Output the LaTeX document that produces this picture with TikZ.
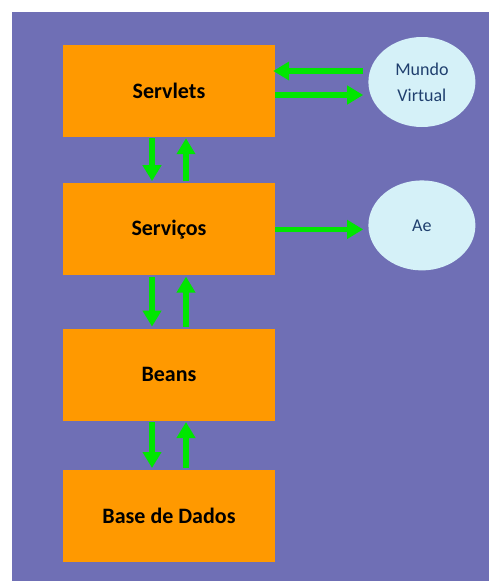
\documentclass[tikz,border=0pt]{standalone}
\usepackage{fontspec}
\setmainfont{Carlito}
\usepackage{xcolor}
\usetikzlibrary{shapes,arrows.meta,positioning}

\definecolor{fundo}{HTML}{6F6FB5}
\definecolor{laranja}{HTML}{FF9900}
\definecolor{verde}{HTML}{00E600}
\definecolor{celeste}{HTML}{D5F1F8}
\definecolor{azultxt}{HTML}{1F3F6E}

\begin{document}
\begin{tikzpicture}[x=1pt, y=1pt,
	camada/.style={rectangle, fill=laranja, minimum width=212pt, minimum height=92pt, font=\fontsize{22}{26}\selectfont\bfseries},
	externo/.style={ellipse, fill=celeste, minimum width=107pt, minimum height=90pt, inner sep=0pt, align=center, text=azultxt, font=\fontsize{18}{26}\selectfont},
	seta/.style={-{Triangle[width=18pt,length=16pt]}, line width=5.5pt, draw=verde}]
				\useasboundingbox (0,0) rectangle (489,-581);
				\fill[fundo] (12,-12) rectangle (489,-581);
				
				\node[camada] (servlets) at (169,-91) {Servlets};
				\node[camada, below=46pt of servlets] (servicos) {Serviços};
				\node[camada, below=53pt of servicos] (beans) {Beans};
				\node[camada, below=49pt of beans] (bd) {Base de Dados};
				
				\node[externo, right=93pt of servlets, yshift=9pt] (mundo) {Mundo\\Virtual};
				\node[externo, right=93pt of servicos, yshift=4pt] (ae) {Ae};
				
				% setas entre camadas
				\foreach \a/\b in {servlets/servicos, servicos/beans, beans/bd} {
					\draw[seta, shorten <=1pt, shorten >=2pt] ([xshift=-17pt]\a.south) -- ([xshift=-17pt]\b.north);
					\draw[seta, shorten <=2pt, shorten >=1pt] ([xshift=17pt]\b.north) -- ([xshift=17pt]\a.south);
				}
				
				\coordinate (vin) at ([yshift=20pt]servlets.east);
				\coordinate (vout) at ([yshift=-4pt]servlets.east);
				\draw[seta, shorten <=5pt, shorten >=-2pt] (vin -| mundo.west) -- (vin);
				\draw[seta, shorten >=5pt] (vout) -- (vout -| mundo.west);
				\draw[seta, shorten >=5pt] (servicos.east) -- (servicos.east -| ae.west);
			\end{tikzpicture}
\end{document}
